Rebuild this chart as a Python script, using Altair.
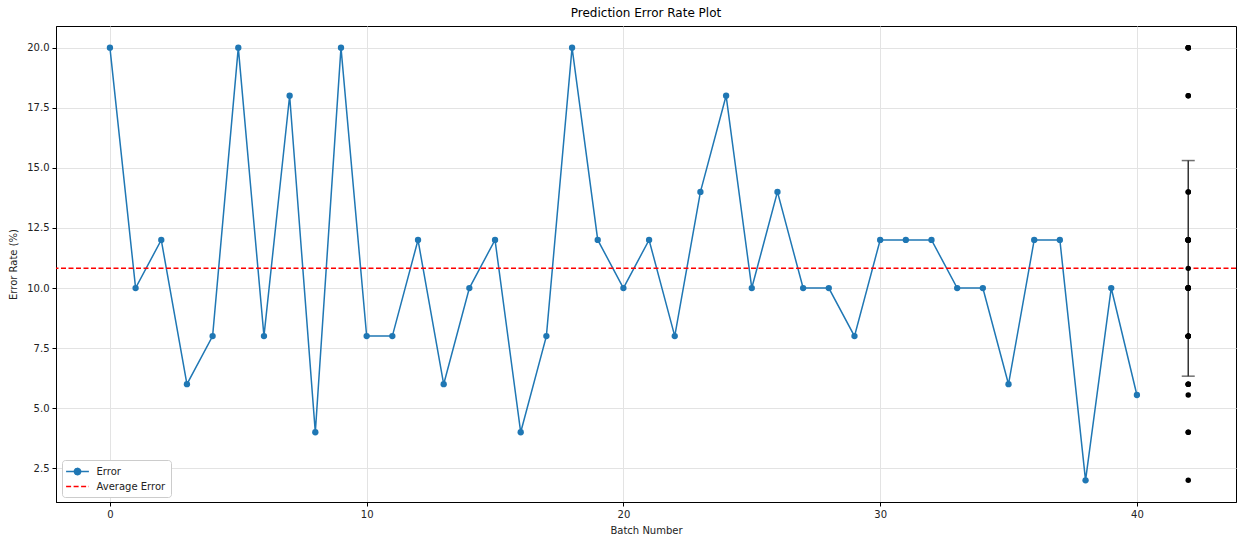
import altair as alt
import pandas as pd

# ---- data ----
batches = list(range(41))
error_rate = [20, 10, 12, 6, 8, 20, 8, 18, 4, 20,
              8, 8, 12, 6, 10, 12, 4, 8, 20, 12,
              10, 12, 8, 14, 18, 10, 14, 10, 10, 8,
              12, 12, 12, 10, 10, 6, 12, 12, 2, 10,
              5.55]
summary_x = 42  # batch position where the summary (error bar + values) is drawn
series_names = ["Error", "Average Error"]
x_ticks = [0, 10, 20, 30, 40]
y_ticks = [2.5, 5.0, 7.5, 10.0, 12.5, 15.0, 17.5, 20.0]

df = pd.DataFrame({"batch": batches, "error": error_rate,
                   "sx": [summary_x] * len(batches)})
legend_df = pd.DataFrame({"series": series_names, "v": [None, None]})

FONT = "DejaVu Sans"
BLUE = "#1f77b4"

x_scale = alt.Scale(domain=[-2.1, 43.86], nice=False, zero=False)
y_scale = alt.Scale(domain=[1.1, 20.9], nice=False, zero=False)

x_enc = alt.X("batch:Q", scale=x_scale,
              axis=alt.Axis(values=x_ticks, title="Batch Number", format="d"))
y_enc = alt.Y("error:Q", scale=y_scale,
              axis=alt.Axis(values=y_ticks, title="Error Rate (%)", format=".1f"))

base = alt.Chart(df)

line = base.mark_line(color=BLUE, strokeWidth=1.5).encode(x=x_enc, y=y_enc)
pts = base.mark_circle(color=BLUE, size=40, opacity=1).encode(
    x=alt.X("batch:Q", title="Batch Number"), y=alt.Y("error:Q", title="Error Rate (%)"))

avg = base.mark_rule(color="red", strokeWidth=1.5, strokeDash=[5, 2.5]).encode(
    y=alt.Y("mean(error):Q", title="Error Rate (%)")
)

ebar = base.mark_errorbar(extent="stdev", ticks={"size": 13, "color": "#333333"},
                          color="#333333", thickness=1.5).encode(
    x=alt.X("sx:Q", title="Batch Number"), y=alt.Y("error:Q", title="Error Rate (%)")
)
sdots = base.mark_circle(color="black", size=30, opacity=1).encode(
    x=alt.X("sx:Q", title="Batch Number"), y=alt.Y("error:Q", title="Error Rate (%)")
)
mdot = base.mark_circle(color="black", size=30, opacity=1).encode(
    x=alt.X("sx:Q", title="Batch Number"), y=alt.Y("mean(error):Q", title="Error Rate (%)")
)

err_path = "M-2,0H2M0.55,0A0.55,0.55 0 1 1 -0.55,0A0.55,0.55 0 1 1 0.55,0Z"
avg_path = "M-2,0H2"

leg = alt.Legend(title=None, orient="none", legendX=6, legendY=434,
                 fillColor="white", strokeColor="#cccccc", cornerRadius=3,
                 padding=5, labelFont=FONT, labelFontSize=10, labelColor="#222222",
                 symbolSize=130, symbolStrokeWidth=1.5, rowPadding=2,
                 symbolOffset=4, labelOffset=12.5)

legend_layer = alt.Chart(legend_df).mark_point(filled=True, strokeWidth=1.5, opacity=1).encode(
    x=alt.X("v:Q", title="Batch Number"), y=alt.Y("v:Q", title="Error Rate (%)"),
    fill=alt.Fill("series:N", scale=alt.Scale(domain=series_names, range=[BLUE, "red"]), legend=leg),
    stroke=alt.Stroke("series:N", scale=alt.Scale(domain=series_names, range=[BLUE, "red"]), legend=leg),
    shape=alt.Shape("series:N", scale=alt.Scale(domain=series_names, range=[err_path, avg_path]), legend=leg),
    strokeDash=alt.StrokeDash("series:N", scale=alt.Scale(domain=series_names, range=[[1, 0], [5, 2.5]]), legend=leg),
)

chart = alt.layer(line, pts, avg, ebar, sdots, mdot, legend_layer).properties(
    width=1180, height=476,
    title=alt.Title("Prediction Error Rate Plot", font=FONT, fontSize=12,
                    fontWeight="normal", color="black", offset=6),
    autosize=alt.AutoSizeParams(type="none"),
    padding={"left": 56, "top": 26, "right": 2, "bottom": 35},
).configure_view(
    stroke="black", strokeWidth=1
).configure_axis(
    labelFont=FONT, labelFontSize=10, labelColor="#222222",
    titleFont=FONT, titleFontSize=10, titleFontWeight="normal", titleColor="#222222",
    domainColor="black", domainWidth=1,
    tickColor="black", tickSize=4, tickWidth=1,
    labelPadding=3,
    grid=True, gridColor="#e3e3e3", gridWidth=1,
).configure_axisY(
    titlePadding=8
).configure_axisX(
    titlePadding=6
)

chart.save("out.html", embed_options={"renderer": "svg", "actions": False})
